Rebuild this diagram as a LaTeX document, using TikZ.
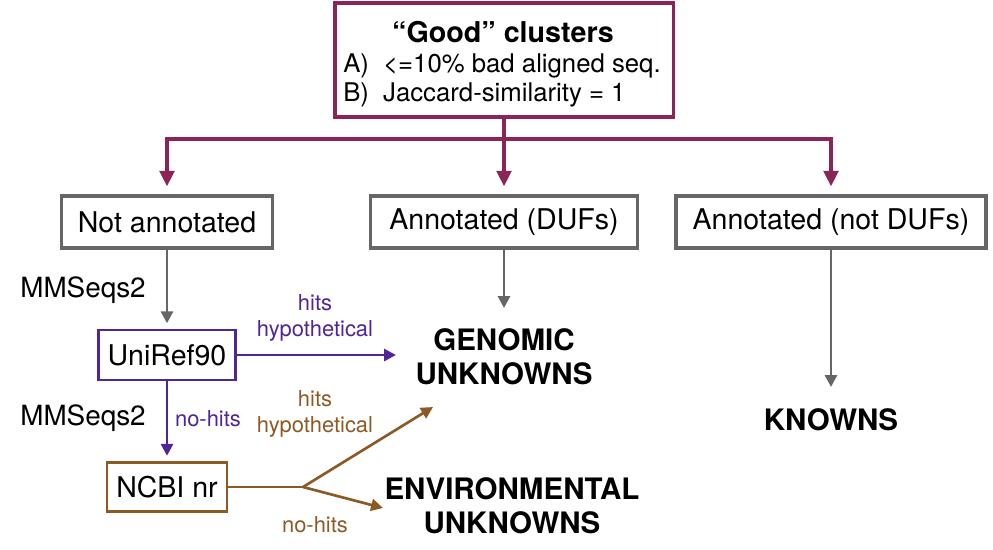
\documentclass[tikz,border=0pt]{standalone}
\usepackage{fontspec}
\setmainfont{TeX Gyre Heros}
\usetikzlibrary{arrows.meta, positioning}
\definecolor{goodred}{HTML}{8C2557}
\definecolor{boxgray}{HTML}{666666}
\definecolor{refpurple}{HTML}{4F2597}
\definecolor{nrbrown}{HTML}{8C5A24}

\begin{document}
\begin{tikzpicture}[x=0.025cm, y=-0.025cm,
  box/.style={draw, rectangle, inner sep=0pt, fill=white},
  boxlabel/.style={font=\fontsize{20.3}{24}\selectfont},
  result/.style={font=\fontsize{21}{24.2}\selectfont\bfseries, align=center},
  tool/.style={font=\fontsize{19.8}{24}\selectfont},
  hitlabel/.style={font=\fontsize{15.6}{18.5}\selectfont, align=center},
  splitarrow/.style={draw=goodred, line width=2.2pt, -{Triangle[length=11pt, width=10.5pt]}},
  grayarrow/.style={draw=boxgray, line width=2.1pt, -{Triangle[length=8.5pt, width=8.5pt]}},
  purplearrow/.style={draw=refpurple, line width=2.1pt, -{Triangle[length=8.5pt, width=8.5pt]}},
  brownarrow/.style={draw=nrbrown, line width=1.9pt, -{Triangle[length=8.5pt, width=8.5pt]}}
]
  \useasboundingbox (0,0) rectangle (993,549);

  % --- "Good" clusters box ---
  \node[box, draw=goodred, line width=2.2pt, minimum width=8.45cm, minimum height=2.85cm] (good) at (504,60) {};
  \node[font=\fontsize{20.4}{24}\selectfont\bfseries] (goodtitle) at (503,32) {“Good” clusters};
  \node[font=\fontsize{18.3}{22}\selectfont, anchor=west, inner sep=0pt] (crita) at (343,66) {A)\hspace{0.55em}<=10\% bad aligned seq.};
  \node[font=\fontsize{18.3}{22}\selectfont, anchor=west, inner sep=0pt] (critb) at (343,95) {B)\hspace{0.55em}Jaccard-similarity = 1};

  % --- annotation split ---
  \node[box, draw=boxgray, line width=2.4pt, minimum width=5.275cm, minimum height=1.3cm, boxlabel] (notann) at (167,222) {Not annotated};
  \node[box, draw=boxgray, line width=2.4pt, minimum width=6.675cm, minimum height=1.3cm, boxlabel] (duf) at (504,222) {Annotated (DUFs)};
  \node[box, draw=boxgray, line width=2.4pt, minimum width=7.75cm, minimum height=1.3cm, boxlabel] (notduf) at (831,222) {Annotated (not DUFs)};

  \coordinate (split) at (504,139);
  \draw[goodred, line width=2.2pt] (good) -- (split);
  \draw[splitarrow, shorten >=0.2cm] (split) -| (notann);
  \draw[splitarrow, shorten >=0.2cm] (split) -- (duf);
  \draw[splitarrow, shorten >=0.2cm] (split) -| (notduf);

  % --- search against databases ---
  \node[box, draw=refpurple, line width=2.1pt, minimum width=3.425cm, minimum height=1.25cm, boxlabel] (uniref) at (167,355) {UniRef90};
  \node[box, draw=nrbrown, line width=2.1pt, minimum width=3cm, minimum height=1.225cm, boxlabel] (ncbi) at (167,487) {NCBI nr};
  \node[tool] (mmseqs1) at (83,290) {MMSeqs2};
  \node[tool] (mmseqs2) at (83,418) {MMSeqs2};

  \draw[grayarrow, shorten >=0.13cm] (notann) -- (uniref);
  \draw[purplearrow, shorten >=0.13cm] (uniref) -- (ncbi);
  \node[hitlabel, text=refpurple] (nohits1) at (208,419) {no-hits};

  % --- categories ---
  \node[result] (genomic) at (504,357) {GENOMIC\\UNKNOWNS};
  \node[result] (envunk) at (512,506) {ENVIRONMENTAL\\UNKNOWNS};
  \node[result] (knowns) at (831,420) {KNOWNS};

  \coordinate (duftip) at (504,308);
  \coordinate (knowntip) at (831,387);
  \coordinate (hyptip) at (396,355);
  \coordinate (fork) at (303,487);
  \coordinate (nrhyptip) at (433,407);
  \coordinate (envtip) at (383,508);

  \draw[grayarrow] (duf) -- (duftip);
  \draw[grayarrow] (notduf) -- (knowntip);

  \draw[purplearrow] (uniref) -- (hyptip);
  \node[hitlabel, text=refpurple] (hits1) at (315,318) {hits\\hypothetical};

  \draw[draw=nrbrown, line width=1.9pt] (ncbi) -- (fork);
  \draw[brownarrow] (fork) -- (nrhyptip);
  \draw[brownarrow] (fork) -- (envtip);
  \node[hitlabel, text=nrbrown] (hits2) at (315,414) {hits\\hypothetical};
  \node[hitlabel, text=nrbrown] (nohits2) at (315,525) {no-hits};
\end{tikzpicture}
\end{document}
